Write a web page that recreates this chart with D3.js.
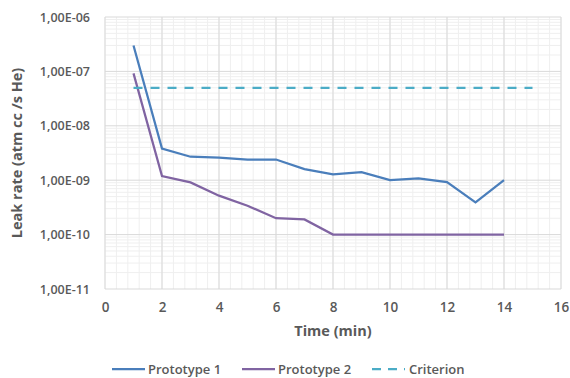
<!DOCTYPE html>
<html>
<head>
<meta charset="utf-8">
<script src="https://cdn.jsdelivr.net/npm/d3@7"></script>
<style>
  body { margin: 0; background: #fff; }
  svg text { font-family: "Open Sans", sans-serif; fill: #595959; }
</style>
</head>
<body>
<div id="chart"></div>
<script>
// data
var times = [1, 2, 3, 4, 5, 6, 7, 8, 9, 10, 11, 12, 13, 14];
var proto1 = [3.0e-7, 3.8e-9, 2.7e-9, 2.6e-9, 2.4e-9, 2.4e-9, 1.6e-9, 1.28e-9, 1.4e-9, 1.0e-9, 1.08e-9, 9.2e-10, 3.9e-10, 1.0e-9];
var proto2 = [9.2e-8, 1.19e-9, 9.1e-10, 5.2e-10, 3.4e-10, 2.0e-10, 1.9e-10, 1.0e-10, 1.0e-10, 1.0e-10, 1.0e-10, 1.0e-10, 1.0e-10, 1.0e-10];
var critTimes = [1, 15];
var criterion = [5e-8, 5e-8];
var seriesNames = ["Prototype 1", "Prototype 2", "Criterion"];
var xTicks = [0, 2, 4, 6, 8, 10, 12, 14, 16];
var yTicks = [1e-11, 1e-10, 1e-9, 1e-8, 1e-7, 1e-6];

var width = 570, height = 378;
var margin = {top: 17, right: 9, bottom: 89, left: 105};
var w = width - margin.left - margin.right,
    h = height - margin.top - margin.bottom;

var svg = d3.select("#chart").append("svg")
    .attr("width", width)
    .attr("height", height);

var g = svg.append("g")
    .attr("transform", "translate(" + margin.left + "," + margin.top + ")");

var xScale = d3.scaleLinear().domain([0, 16]).range([0, w]);
var yScale = d3.scaleLog().domain([1e-11, 1e-6]).range([h, 0]);

// minor grid
var xMinor = d3.range(0, 16.001, 0.4);
g.selectAll(".xminor").data(xMinor).enter().append("line")
    .attr("x1", function(d) { return xScale(d); })
    .attr("x2", function(d) { return xScale(d); })
    .attr("y1", 0).attr("y2", h)
    .attr("stroke", "#efefef").attr("stroke-width", 1);

var yMinor = [];
yTicks.slice(0, -1).forEach(function(d) {
    for (var k = 2; k <= 9; k++) yMinor.push(d * k);
});
g.selectAll(".yminor").data(yMinor).enter().append("line")
    .attr("x1", 0).attr("x2", w)
    .attr("y1", function(d) { return yScale(d); })
    .attr("y2", function(d) { return yScale(d); })
    .attr("stroke", "#efefef").attr("stroke-width", 1);

// major grid
g.selectAll(".xmajor").data(xTicks).enter().append("line")
    .attr("x1", function(d) { return xScale(d); })
    .attr("x2", function(d) { return xScale(d); })
    .attr("y1", 0).attr("y2", h)
    .attr("stroke", "#d9d9d9").attr("stroke-width", 1);
g.selectAll(".ymajor").data(yTicks).enter().append("line")
    .attr("x1", 0).attr("x2", w)
    .attr("y1", function(d) { return yScale(d); })
    .attr("y2", function(d) { return yScale(d); })
    .attr("stroke", "#d9d9d9").attr("stroke-width", 1);

// axes (labels only)
var fmt = function(d) {
    var e = Math.round(Math.log10(d));
    return "1,00E" + (e < 0 ? "-" : "+") + d3.format("02d")(Math.abs(e));
};
var xAxis = d3.axisBottom(xScale).tickValues(xTicks).tickSize(0).tickPadding(13);
var yAxis = d3.axisLeft(yScale).tickValues(yTicks).tickFormat(fmt).tickSize(0).tickPadding(15);

g.append("g").attr("class", "x axis")
    .attr("transform", "translate(0," + h + ")")
    .call(xAxis);
g.append("g").attr("class", "y axis").call(yAxis);
g.selectAll(".axis .domain").remove();
g.selectAll(".axis text")
    .style("font-family", "'Open Sans', sans-serif")
    .style("font-size", "12.5px")
    .style("font-weight", "600")
    .attr("fill", "#595959");
g.selectAll(".x.axis text").style("font-size", "13.5px");

// series
var line = d3.line()
    .x(function(d) { return xScale(d[0]); })
    .y(function(d) { return yScale(d[1]); });

var series = [
    {name: seriesNames[0], pts: d3.zip(times, proto1), color: "#4a7ebb", dash: null},
    {name: seriesNames[1], pts: d3.zip(times, proto2), color: "#8064a2", dash: null},
    {name: seriesNames[2], pts: d3.zip(critTimes, criterion), color: "#4bacc6", dash: "9,8"}
];

g.selectAll(".series").data(series).enter().append("path")
    .attr("d", function(d) { return line(d.pts); })
    .attr("fill", "none")
    .attr("stroke", function(d) { return d.color; })
    .attr("stroke-width", 2.25)
    .attr("stroke-dasharray", function(d) { return d.dash; });

// axis titles
svg.append("text")
    .attr("text-anchor", "middle")
    .attr("transform", "translate(333,336)")
    .style("font-size", "14.5px").style("font-weight", "700")
    .text("Time (min)");

svg.append("text")
    .attr("text-anchor", "middle")
    .attr("transform", "translate(22,153)rotate(-90)")
    .style("font-size", "14.5px").style("font-weight", "700")
    .text("Leak rate (atm cc /s He)");

// legend
var legendX = [112, 242, 372];
var leg = svg.selectAll(".legend").data(series).enter().append("g")
    .attr("transform", function(d, i) { return "translate(" + legendX[i] + ",369)"; });
leg.append("line")
    .attr("x1", 0).attr("x2", 33)
    .attr("stroke", function(d) { return d.color; })
    .attr("stroke-width", 2.25)
    .attr("stroke-dasharray", function(d) { return d.dash ? "9,7" : null; });
leg.append("text")
    .attr("x", function(d, i) { return i == 2 ? 37 : 36; })
    .attr("y", 4.5)
    .style("font-size", "13px").style("font-weight", "600")
    .text(function(d) { return d.name; });
</script>
</body>
</html>
